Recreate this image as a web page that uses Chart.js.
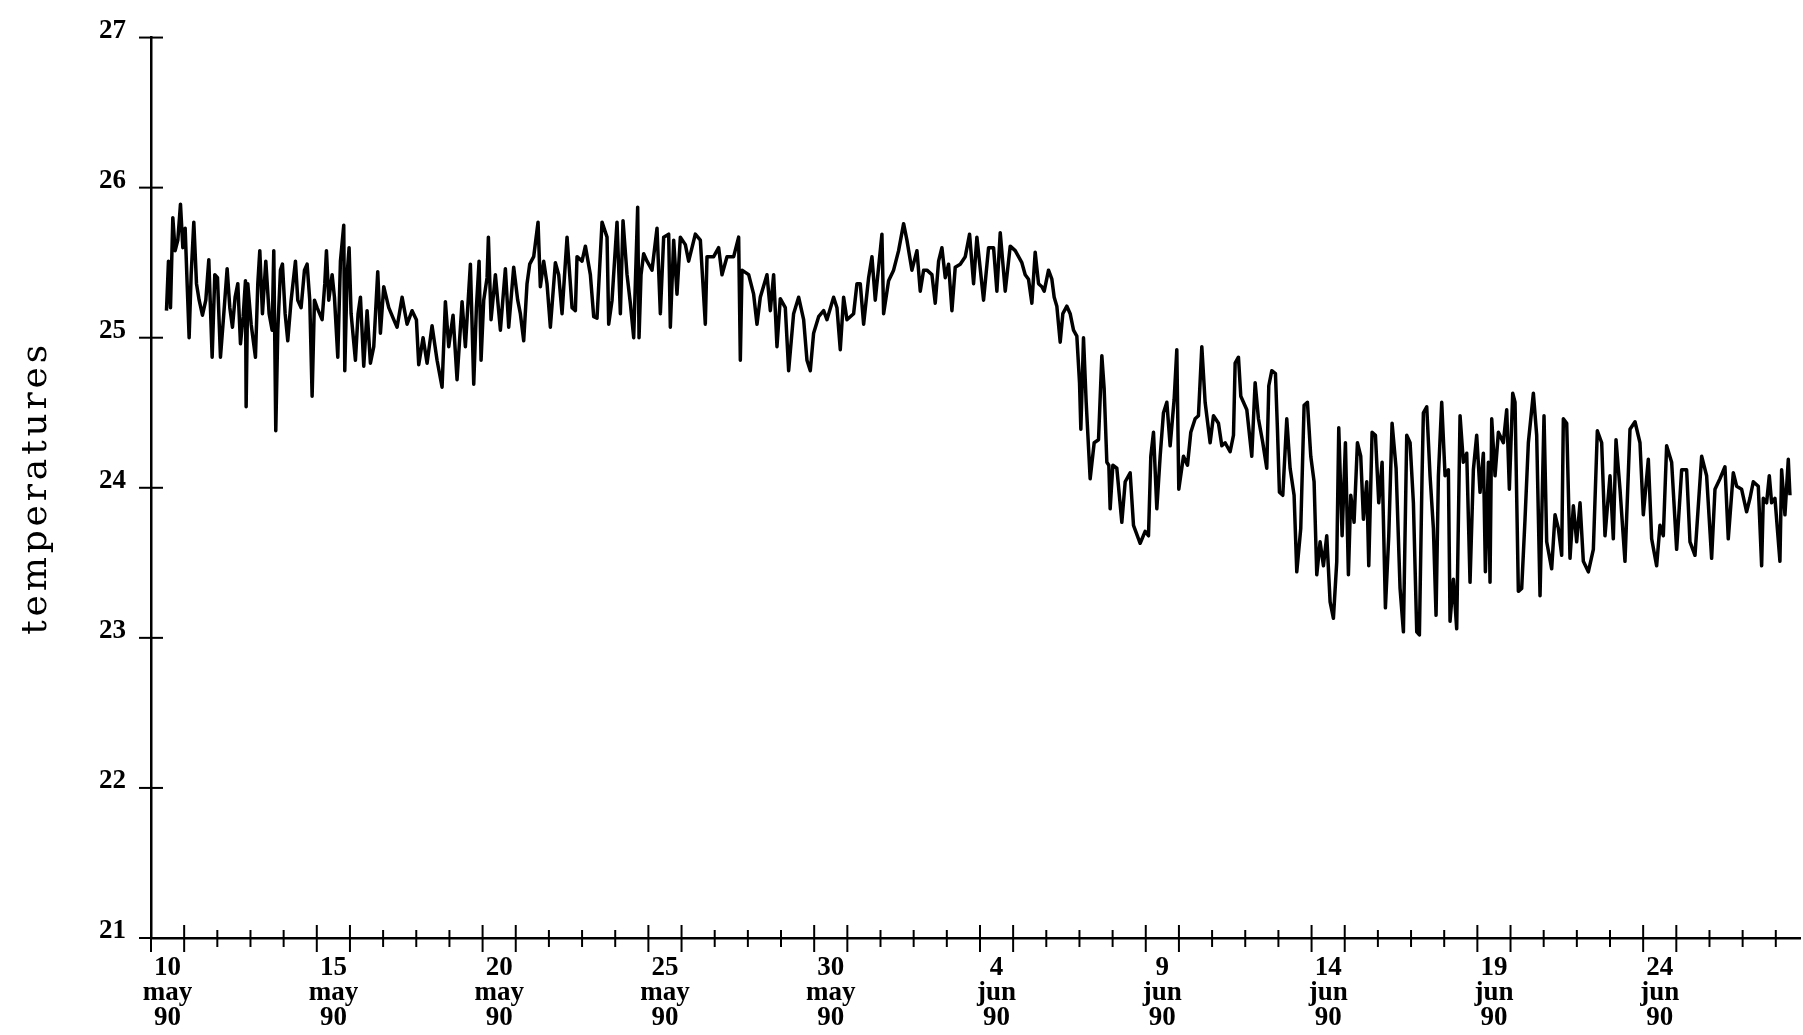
<!DOCTYPE html>
<html>
<head>
<meta charset="utf-8">
<script src="https://cdn.jsdelivr.net/npm/chart.js@4.4.1/dist/chart.umd.min.js"></script>
<style>
  html, body { margin: 0; padding: 0; background: #fff; }
  canvas { display: block; }
</style>
</head>
<body>
<canvas id="c" width="1803" height="1035"></canvas>
<script>
// time in days since 10 May 1990 00:00
const dayOffsets = [
0.467,0.527,0.588,0.658,0.728,0.809,0.889,0.960,1.030,1.090,
1.150,1.211,1.291,1.372,1.452,1.552,1.653,1.743,1.844,1.924,
2.005,2.095,2.196,2.296,2.377,2.457,2.537,2.618,2.698,2.779,
2.849,2.869,2.919,3.020,3.150,3.221,3.281,3.361,3.462,3.562,
3.653,3.703,3.763,3.824,3.904,3.964,4.045,4.125,4.226,4.356,
4.427,4.527,4.628,4.708,4.788,4.859,4.929,5.009,5.160,5.241,
5.291,5.361,5.462,5.532,5.633,5.713,5.813,5.844,5.914,5.974,
6.034,6.165,6.245,6.316,6.416,6.517,6.617,6.718,6.838,6.919,
7.019,7.170,7.321,7.421,7.572,7.723,7.874,8.004,8.074,8.205,
8.326,8.476,8.627,8.778,8.878,8.979,9.109,9.230,9.381,9.481,
9.632,9.733,9.813,9.894,9.954,10.034,10.135,10.175,10.255,10.386,
10.537,10.687,10.788,10.938,11.059,11.139,11.240,11.340,11.421,11.541,
11.672,11.742,11.843,11.943,12.044,12.195,12.295,
12.396,12.547,12.698,12.798,12.848,12.999,13.100,13.250,13.351,13.451,
13.602,13.753,13.803,13.904,14.054,14.155,14.235,14.356,14.456,14.557,
14.677,14.718,14.778,14.858,14.959,15.109,15.260,15.361,15.461,15.612,
15.662,15.763,15.863,15.964,16.114,16.215,16.416,16.567,16.717,16.768,
16.969,17.119,17.220,17.371,17.572,17.722,17.773,17.823,18.024,18.174,
18.275,18.375,18.576,18.677,18.777,18.878,18.978,19.129,19.230,19.380,
19.531,19.682,19.782,19.883,19.983,20.134,20.285,20.385,20.586,20.687,
20.787,20.888,20.988,21.189,21.290,21.390,21.491,21.642,21.742,21.842,
21.943,22.043,22.094,22.244,22.395,22.546,22.697,22.797,22.948,23.099,
23.199,23.300,23.400,23.551,23.651,23.752,23.852,23.953,24.053,24.154,
24.254,24.405,24.556,24.686,24.807,24.907,25.108,25.259,25.410,25.510,
25.611,25.762,25.912,26.063,
26.263,26.364,26.464,26.565,26.665,26.766,26.866,26.937,27.067,27.168,
27.238,27.318,27.419,27.499,27.620,27.720,27.821,27.921,28.002,28.042,
28.122,28.203,28.323,28.444,28.575,28.675,28.745,28.826,28.886,28.926,
29.007,29.127,29.278,29.379,29.529,29.630,29.831,29.981,30.082,30.152,
30.233,30.333,30.434,30.534,30.635,30.735,30.856,30.936,30.996,31.137,
31.258,31.358,31.489,31.589,31.690,31.790,31.941,32.042,32.192,32.293,
32.393,32.544,32.645,32.695,32.795,32.866,33.047,33.197,33.298,33.398,
33.529,33.649,33.710,33.800,33.911,33.971,34.031,34.132,34.252,34.353,
34.473,34.554,34.674,34.775,34.875,34.976,35.076,35.157,35.257,35.358,
35.458,35.559,35.659,35.760,35.820,35.921,36.021,36.111,36.182,36.282,
36.383,36.483,36.564,36.664,36.725,36.825,36.926,37.026,37.127,37.227,
37.328,37.428,37.549,37.669,37.770,37.870,37.971,38.071,38.172,
38.252,38.332,38.372,38.473,38.573,38.674,38.754,38.825,38.925,39.026,
39.126,39.176,39.277,39.377,39.478,39.578,39.679,39.779,39.880,39.980,
40.081,40.181,40.242,40.332,40.382,40.433,40.533,40.634,40.784,40.885,
40.965,41.066,41.136,41.236,41.337,41.437,41.538,41.689,41.789,41.890,
42.010,42.091,42.241,42.342,42.442,42.543,42.593,42.694,42.794,42.895,
42.995,43.096,43.196,43.347,43.498,43.618,43.749,43.849,44.000,44.100,
44.181,44.302,44.452,44.603,44.754,44.904,45.005,45.156,45.256,45.407,
45.507,45.608,45.708,45.859,46.010,46.161,46.311,46.412,46.563,46.764,
46.914,47.065,47.166,47.316,47.467,47.567,47.718,47.819,47.970,48.120,
48.221,48.321,48.472,48.573,48.623,48.723,48.804,48.874,48.975,49.125,
49.176,49.276,49.377,49.427
];

const temperatures = [
25.18,25.51,25.20,25.80,25.58,25.65,25.89,25.60,25.73,25.36,
25.00,25.42,25.77,25.36,25.25,25.15,25.25,25.52,24.87,25.42,
25.40,24.87,25.16,25.46,25.20,25.07,25.27,25.36,24.96,25.14,
25.38,24.54,25.36,25.09,24.87,25.36,25.58,25.16,25.51,25.16,
25.05,25.58,24.38,25.05,25.45,25.49,25.16,24.98,25.25,25.51,
25.25,25.20,25.45,25.49,25.25,24.61,25.25,25.20,25.12,25.36,
25.58,25.25,25.42,25.27,24.87,25.51,25.75,24.78,25.42,25.60,
25.16,24.85,25.16,25.27,24.81,25.18,24.83,24.94,25.44,25.03,
25.34,25.20,25.12,25.07,25.27,25.09,25.18,25.12,24.82,25.00,
24.83,25.08,24.85,24.67,25.24,24.94,25.15,24.72,25.24,24.94,
25.49,24.69,25.20,25.51,24.85,25.25,25.40,25.67,25.12,25.42,
25.05,25.46,25.07,25.47,25.25,25.16,24.98,25.36,25.49,25.54,
25.77,25.34,25.51,25.36,25.07,25.50,25.42,
25.16,25.67,25.20,25.18,25.54,25.51,25.61,25.42,25.14,25.13,
25.77,25.67,25.09,25.25,25.77,25.16,25.78,25.42,25.23,25.00,
25.87,25.00,25.42,25.56,25.51,25.45,25.73,25.16,25.67,25.69,
25.07,25.65,25.29,25.67,25.62,25.51,25.69,25.65,25.09,25.54,
25.54,25.60,25.42,25.54,25.54,25.67,24.85,25.45,25.42,25.29,
25.09,25.27,25.42,25.18,25.42,24.94,25.26,25.20,24.78,25.16,
25.27,25.12,24.85,24.78,25.03,25.14,25.18,25.12,25.27,25.20,
24.92,25.27,25.12,25.16,25.36,25.36,25.09,25.40,25.54,25.25,
25.47,25.69,25.16,25.38,25.45,25.58,25.76,25.65,25.45,25.58,
25.31,25.45,25.45,25.42,25.23,25.51,25.60,25.40,25.49,25.18,
25.47,25.49,25.54,25.69,25.36,25.67,25.25,25.60,25.60,25.31,
25.70,25.31,25.61,25.58,
25.50,25.42,25.39,25.23,25.57,25.36,25.34,25.31,25.45,25.39,
25.27,25.21,24.97,25.16,25.21,25.16,25.05,25.01,24.70,24.39,
25.00,24.57,24.06,24.30,24.32,24.88,24.66,24.17,24.15,23.86,
24.15,24.13,23.77,24.04,24.10,23.75,23.63,23.71,23.68,24.21,
24.37,23.86,24.21,24.50,24.57,24.28,24.59,24.92,23.99,24.21,
24.15,24.37,24.46,24.48,24.94,24.57,24.30,24.48,24.43,24.28,
24.30,24.24,24.35,24.83,24.87,24.61,24.52,24.21,24.70,24.46,
24.30,24.13,24.68,24.78,24.76,24.39,23.97,23.95,24.46,24.13,
23.95,23.44,23.73,24.55,24.57,24.21,24.04,23.42,23.64,23.48,
23.68,23.24,23.13,23.51,24.40,23.68,24.30,23.42,23.95,23.77,
24.30,24.21,23.79,24.04,23.48,24.37,24.35,23.90,24.17,23.20,
23.68,24.43,24.13,23.33,23.04,24.35,24.30,23.90,23.04,
23.02,24.08,24.50,24.54,24.08,23.73,23.15,24.08,24.57,24.08,
24.12,23.11,23.39,23.06,24.48,24.17,24.23,23.37,24.12,24.35,
23.97,24.23,23.44,24.17,23.37,24.46,24.08,24.37,24.30,24.52,
23.99,24.63,24.57,23.31,23.33,23.79,24.30,24.63,24.35,23.28,
24.48,23.64,23.46,23.82,23.73,23.55,24.46,24.43,23.53,23.88,
23.64,23.90,23.51,23.44,23.59,24.38,24.30,23.68,24.08,23.66,
24.32,23.99,23.51,24.39,24.44,24.30,23.82,24.19,23.66,23.48,
23.75,23.68,24.28,24.17,23.59,24.12,24.12,23.64,23.55,24.21,
24.08,23.53,23.99,24.06,24.14,23.66,24.10,24.01,23.99,23.84,
23.93,24.04,24.01,23.48,23.93,23.90,24.08,23.90,23.93,23.51,
24.12,23.82,24.19,23.95
];

// axis ticks and labels
const yTickValues = [21, 22, 23, 24, 25, 26, 27];
const xTickDays = [0,1,2,3,4,5,6,7,8,9,10,11,12,13,14,15,16,17,18,19,20,21,22,23,24,25,26,27,28,29,30,31,32,33,34,35,36,37,38,39,40,41,42,43,44,45,46,47,48,49];
const labelDays   = [0, 5, 10, 15, 20, 25, 30, 35, 40, 45];
const labelDates  = ['10','15','20','25','30','4','9','14','19','24'];
const labelMonths = ['may','may','may','may','may','jun','jun','jun','jun','jun'];
const labelYears  = ['90','90','90','90','90','90','90','90','90','90'];
const yTitle = 'temperatures';

const points = dayOffsets.map((d, i) => ({ x: d, y: temperatures[i] }));

const tickFont = { family: '"Liberation Serif", serif', weight: 'bold', size: 27, lineHeight: 0.93 };

const decor = {
  id: 'decor',
  beforeDraw(chart) {
    const c = chart.ctx;
    c.save();
    c.fillStyle = '#ffffff';
    c.fillRect(0, 0, chart.width, chart.height);
    c.restore();
  },
  afterDraw(chart) {
    const c = chart.ctx, xs = chart.scales.x, ys = chart.scales.y;
    c.save();
    c.strokeStyle = '#000';
    c.lineWidth = 2;
    const yb = ys.getPixelForValue(yTickValues[0]);
    xs.ticks.forEach(t => {
      const px = xs.getPixelForValue(t.value);
      const tall = (t.value % 5) <= 1;
      c.beginPath();
      c.moveTo(px, yb - (tall ? 13 : 8));
      c.lineTo(px, yb + (tall ? 14 : 9));
      c.stroke();
    });
    const xl = xs.getPixelForValue(0);
    ys.ticks.forEach(t => {
      const py = ys.getPixelForValue(t.value);
      c.beginPath();
      c.moveTo(xl - 12, py);
      c.lineTo(xl + 12, py);
      c.stroke();
    });
    // axis title
    c.font = '36px "DejaVu Serif", serif';
    c.fillStyle = '#000';
    const w = c.measureText(yTitle).width;
    const spacing = Math.max(0, (290 - w) / (yTitle.length - 1));
    c.letterSpacing = spacing + 'px';
    c.translate(46, (ys.top + ys.bottom) / 2 + 2);
    c.rotate(-Math.PI / 2);
    c.textAlign = 'center';
    c.textBaseline = 'alphabetic';
    c.fillText(yTitle, spacing / 2, 0);
    c.restore();
  }
};

new Chart(document.getElementById('c').getContext('2d'), {
  type: 'line',
  data: {
    datasets: [{
      data: points,
      borderColor: '#000',
      borderWidth: 3.5,
      borderJoinStyle: 'round',
      pointRadius: 0,
      tension: 0,
      fill: false
    }]
  },
  options: {
    responsive: false,
    animation: false,
    layout: { padding: { top: 33, right: 3, left: 0, bottom: 0 } },
    plugins: { legend: { display: false }, tooltip: { enabled: false } },
    scales: {
      x: {
        type: 'linear',
        position: 'bottom',
        min: 0,
        max: 49.73,
        afterBuildTicks: s => { s.ticks = xTickDays.map(v => ({ value: v })); },
        afterFit: s => { s.height = 97; },
        grid: { display: false, drawTicks: false },
        border: { display: true, color: '#000', width: 2.5 },
        ticks: {
          autoSkip: false,
          maxRotation: 0,
          minRotation: 0,
          labelOffset: 16.6,
          padding: 17,
          color: '#000',
          font: tickFont,
          callback: (v) => {
            const i = labelDays.indexOf(v);
            return i >= 0 ? [labelDates[i], labelMonths[i], labelYears[i]] : '';
          }
        }
      },
      y: {
        type: 'linear',
        min: 21,
        max: 27,
        afterBuildTicks: s => { s.ticks = yTickValues.map(v => ({ value: v })); },
        afterFit: s => { s.width = 151; },
        grid: { display: false, drawTicks: false },
        border: { display: true, color: '#000', width: 2.5 },
        ticks: {
          padding: 25,
          labelOffset: -7,
          color: '#000',
          font: tickFont,
          callback: v => String(v)
        }
      }
    }
  },
  plugins: [decor]
});
</script>
</body>
</html>
